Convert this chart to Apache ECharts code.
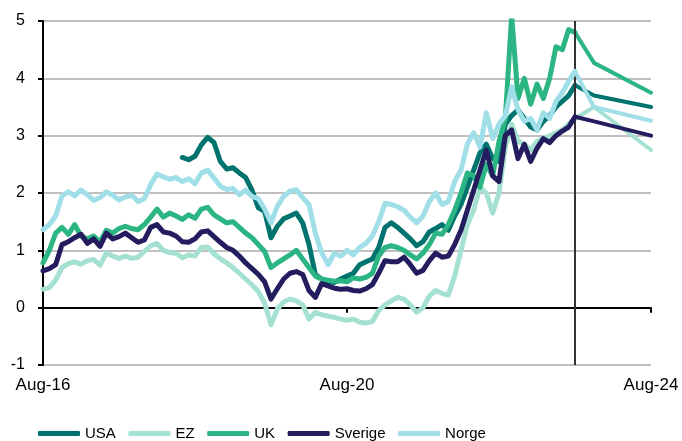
<!DOCTYPE html>
<html>
<head>
<meta charset="utf-8">
<script src="https://cdn.jsdelivr.net/npm/echarts@6/dist/echarts.min.js"></script>
<style>
  html, body { margin: 0; padding: 0; background: #fff; }
  #chart { width: 682px; height: 441px; }
</style>
</head>
<body>
<div id="chart"></div>
<script>
// Monthly observations, month 0 = Aug-16 ... month 84 = Aug-23
const xTickLabels = ['Aug-16', 'Aug-20', 'Aug-24'];

const usa = [
  null, null, null, null, null, null, null, null, null, null,
  null, null, null, null, null, null, null, null, null, null,
  null, null, 2.62, 2.58, 2.64, 2.84, 2.97, 2.88, 2.55, 2.42,
  2.44, 2.35, 2.27, 2.05, 1.74, 1.68, 1.22, 1.42, 1.55, 1.6,
  1.65, 1.48, 1.1, 0.58, 0.5, 0.46, 0.44, 0.5, 0.55, 0.6,
  0.75, 0.8, 0.85, 1.05, 1.4, 1.48, 1.4, 1.3, 1.2, 1.08,
  1.15, 1.32, 1.38, 1.45, 1.35, 1.6, 1.8, 2.1, 2.4, 2.7,
  2.85, 2.6, 2.55, 3.2, 3.35, 3.45, 3.3, 3.15, 3.1, 3.25,
  3.35, 3.5, 3.6, 3.7, 3.88
];

const ez = [
  0.32, 0.35, 0.48, 0.7, 0.77, 0.8, 0.76, 0.82, 0.84, 0.74,
  0.95, 0.9, 0.86, 0.9, 0.86, 0.88, 0.98, 1.08, 1.12, 1.0,
  0.96, 0.95, 0.87, 0.92, 0.9, 1.05, 1.06, 0.94, 0.85, 0.78,
  0.7, 0.6, 0.5, 0.4, 0.28, 0.08, -0.3, -0.02, 0.1, 0.15,
  0.12, 0.05, -0.2, -0.08, -0.12, -0.15, -0.17, -0.2, -0.22, -0.2,
  -0.25, -0.27, -0.24, -0.05, 0.05, 0.12, 0.18, 0.15, 0.05, -0.08,
  0.0, 0.2, 0.3, 0.25, 0.22, 0.55, 1.0, 1.45, 1.7, 2.1,
  2.0, 1.65, 2.0, 2.8, 3.2, 2.9, 2.85, 2.75, 2.9, 2.95,
  3.0, 3.05, 3.1, 3.2, 3.3
];

const uk = [
  0.78, 1.0, 1.3, 1.4, 1.28, 1.45, 1.25, 1.2, 1.25, 1.15,
  1.35, 1.3, 1.38, 1.42, 1.38, 1.36, 1.45, 1.58, 1.72, 1.58,
  1.65, 1.6, 1.54, 1.62, 1.56, 1.72, 1.75, 1.62, 1.55, 1.48,
  1.5, 1.4, 1.3, 1.22, 1.1, 0.98, 0.7, 0.78, 0.85, 0.92,
  1.0, 0.85, 0.7, 0.55, 0.5, 0.48, 0.46, 0.47, 0.45, 0.52,
  0.5, 0.53, 0.6, 0.9, 1.05, 1.08, 1.05, 1.0, 0.92, 0.85,
  0.95, 1.1, 1.3, 1.28, 1.45, 1.7, 2.0, 2.35, 2.3, 2.1,
  2.5, 2.3, 2.9, 3.3, 5.1, 3.65, 4.0, 3.55, 3.9, 3.65,
  4.0, 4.55, 4.5, 4.85, 4.8
];

const sverige = [
  0.64, 0.68, 0.75, 1.1, 1.15, 1.22, 1.28, 1.12, 1.2, 1.07,
  1.3, 1.2, 1.24, 1.3, 1.22, 1.14, 1.18, 1.4, 1.45, 1.32,
  1.3, 1.25, 1.15, 1.14, 1.2, 1.32, 1.34, 1.24, 1.14, 1.05,
  1.0, 0.9, 0.78, 0.68, 0.58, 0.45, 0.15, 0.33, 0.5, 0.6,
  0.63, 0.58, 0.3, 0.18, 0.42, 0.38, 0.34, 0.32, 0.33, 0.3,
  0.29, 0.33, 0.4, 0.6, 0.82, 0.8, 0.8, 0.88, 0.75, 0.6,
  0.65, 0.82, 0.95, 0.88, 0.9, 1.1, 1.35, 1.7, 2.05, 2.4,
  2.75, 2.3, 2.2, 3.0, 3.1, 2.6, 2.85, 2.55, 2.78, 2.95,
  2.88, 3.0, 3.08, 3.15, 3.33
];

const norge = [
  1.36, 1.45, 1.6, 1.95, 2.02, 1.95, 2.05, 1.97, 1.87, 1.92,
  2.02, 1.96, 1.88, 1.93, 1.96, 1.85, 1.9, 2.15, 2.33, 2.28,
  2.24, 2.27, 2.2, 2.25, 2.16, 2.35, 2.4, 2.26, 2.12, 2.06,
  2.08, 1.97, 2.05, 1.94, 1.9, 1.72, 1.48, 1.77, 1.94, 2.03,
  2.06, 1.92, 1.8, 1.3, 0.96, 0.75, 0.95, 0.9, 1.0, 0.92,
  1.05, 1.12, 1.25, 1.5, 1.82, 1.8, 1.76, 1.7, 1.58, 1.48,
  1.6, 1.85, 2.0, 1.8, 1.85, 2.2, 2.4, 2.85, 3.05, 2.8,
  3.4, 2.95, 3.2, 3.35, 3.85, 3.45, 3.25, 3.3, 3.1, 3.4,
  3.3, 3.6, 3.75, 3.95, 4.12
];

// Forecast path: Aug-23, Nov-23, Aug-24
const fcMonths = [84, 87, 96];
const usaFc = [3.88, 3.7, 3.5];
const ezFc = [3.3, 3.5, 2.75];
const ukFc = [4.8, 4.27, 3.75];
const sverigeFc = [3.33, 3.25, 3.0];
const norgeFc = [4.12, 3.5, 3.26];

const forecastStart = 84;

const names = ['USA', 'EZ', 'UK', 'Sverige', 'Norge'];
const colors = ['#00736E', '#A5E1D2', '#2BB582', '#231C5E', '#A0DEE8'];
const histData = [usa, ez, uk, sverige, norge];
const fcData = [usaFc, ezFc, ukFc, sverigeFc, norgeFc];

const FONT = '"Liberation Sans", Arial, sans-serif';

const series = [];
names.forEach((n, k) => {
  series.push({
    name: n,
    type: 'line',
    data: histData[k].map((v, i) => [i, v]),
    showSymbol: false,
    symbol: 'none',
    lineStyle: { color: colors[k], width: 5, join: 'round', cap: 'round' },
    itemStyle: { color: colors[k] },
    z: 2 + k
  });
});
names.forEach((n, k) => {
  const s = {
    name: n,
    type: 'line',
    data: fcData[k].map((v, i) => [fcMonths[i], v]),
    showSymbol: false,
    symbol: 'none',
    lineStyle: { color: colors[k], width: 4, join: 'round', cap: 'round' },
    itemStyle: { color: colors[k] },
    z: 2 + k
  };
  if (k === 0) {
    s.markLine = {
      silent: true,
      symbol: ['none', 'none'],
      label: { show: false },
      lineStyle: { color: '#333333', width: 2, type: 'solid' },
      data: [{ xAxis: forecastStart }]
    };
  }
  series.push(s);
});

const chart = echarts.init(document.getElementById('chart'), null, { renderer: 'canvas' });
chart.setOption({
  animation: false,
  backgroundColor: '#ffffff',
  textStyle: { fontFamily: FONT },
  grid: { left: 43, right: 31, top: 21, bottom: 76, containLabel: false, outerBoundsMode: 'none' },
  legend: {
    data: names,
    left: 38,
    top: 426,
    padding: 0,
    icon: 'roundRect',
    itemWidth: 42,
    itemHeight: 5,
    itemGap: 12.6,
    textStyle: { fontFamily: FONT, fontSize: 15, color: '#000' }
  },
  xAxis: {
    type: 'value',
    min: 0,
    max: 96,
    interval: 48,
    axisLine: { onZero: true, lineStyle: { color: '#000', width: 2 } },
    axisTick: { show: true, length: 5, lineStyle: { color: '#000', width: 2 } },
    axisLabel: {
      margin: 12,
      fontSize: 17,
      color: '#000',
      fontFamily: FONT,
      formatter: v => xTickLabels[Math.round(v / 48)]
    },
    splitLine: { show: false }
  },
  yAxis: {
    type: 'value',
    min: -1,
    max: 5,
    interval: 1,
    axisLine: { show: true, lineStyle: { color: '#000', width: 2 } },
    axisTick: { show: true, length: 5, lineStyle: { color: '#000', width: 2 } },
    axisLabel: { margin: 18, fontSize: 16, color: '#000', fontFamily: FONT },
    splitLine: { show: true, lineStyle: { color: '#BFBFBF', width: 2 } }
  },
  series: series
});
</script>
</body>
</html>
